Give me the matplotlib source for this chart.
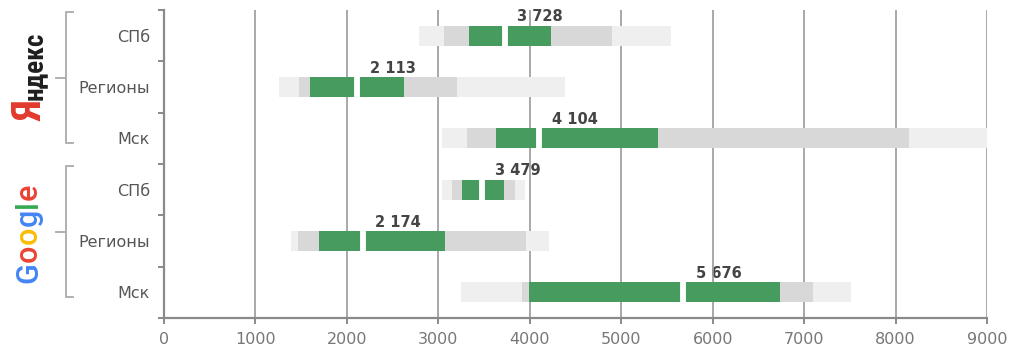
import matplotlib
matplotlib.use("Agg")
import matplotlib.pyplot as plt
import matplotlib.transforms as mtransforms
from matplotlib import font_manager
import numpy as np

# --- данные (оценка по картинке) ---
row_labels = ["СПб", "Регионы", "Мск", "СПб", "Регионы", "Мск"]
outer_lo = [2790, 1260, 3040, 3040, 1390, 3250]
mid_lo = [3060, 1480, 3310, 3150, 1460, 3920]
inner_lo = [3330, 1600, 3630, 3260, 1690, 3990]
median = [3728, 2113, 4104, 3479, 2174, 5676]
inner_hi = [4230, 2620, 5400, 3720, 3070, 6740]
mid_hi = [4900, 3200, 8150, 3840, 3960, 7100]
outer_hi = [5540, 4380, 9000, 3950, 4210, 7510]
x_ticks = list(range(0, 10000, 1000))

GREEN = "#489b5e"
LIGHT = "#efefef"
MID = "#d8d8d8"
AXIS = "#8a8a8a"

plt.rcParams["font.family"] = ["DejaVu Sans"]

# узкий шрифт для логотипа Яндекса, если есть
installed = {f.name for f in font_manager.fontManager.ttflist}
narrow = next((f for f in ["Liberation Sans Narrow", "Roboto Condensed",
                           "Open Sans Condensed", "Liberation Sans"] if f in installed),
              "DejaVu Sans")

W, H = 1024, 358
fig = plt.figure(figsize=(W / 100, H / 100), dpi=100)
ax = fig.add_axes([164 / W, 1 - 318 / H, (987 - 164) / W, 308 / H])

y = np.arange(len(row_labels))
h = 0.39

def span(lo, hi):
    return np.array(hi) - np.array(lo)

ax.barh(y, span(outer_lo, outer_hi), left=outer_lo, height=h, color=LIGHT, zorder=2)
ax.barh(y, span(mid_lo, mid_hi), left=mid_lo, height=h, color=MID, zorder=2.1)
ax.barh(y, span(inner_lo, inner_hi), left=inner_lo, height=h, color=GREEN, zorder=2.2)
ax.vlines(median, y - h / 2 - 0.02, y + h / 2 + 0.02, color="white", lw=4.2, zorder=2.3)

for yi, m in zip(y, median):
    ax.annotate(f"{m:,}".replace(",", " "), xy=(m, yi - h / 2), xytext=(9, 1),
                textcoords="offset points", ha="left", va="bottom",
                fontsize=10.5, fontweight="bold", color="#444444", zorder=0.4)

ax.set_xlim(0, 9000)
ax.set_ylim(len(row_labels) - 0.5, -0.5)
ax.set_xticks(x_ticks)
ax.set_yticks(y)
ax.set_yticklabels(row_labels)
ax.set_yticks(np.arange(-0.5, len(row_labels), 1.0), minor=True)

ax.set_axisbelow(True)
ax.grid(axis="x", color="#9a9a9a", lw=1.2)
for s in ["top", "right"]:
    ax.spines[s].set_visible(False)
for s in ["left", "bottom"]:
    ax.spines[s].set_color(AXIS)
    ax.spines[s].set_linewidth(1.6)

ax.tick_params(axis="x", length=4, width=1.4, color=AXIS, labelcolor="#777777",
               labelsize=11.5, pad=6)
ax.tick_params(axis="y", which="major", length=0, labelcolor="#555555",
               labelsize=11.5, pad=10)
ax.tick_params(axis="y", which="minor", length=4, width=1.4, color=AXIS)

# --- скобки групп ---
trans = mtransforms.blended_transform_factory(fig.transFigure, ax.transData)
bx, arm, mid_x = 66 / W, 73 / W, 56 / W
for off in (0, 3):
    top, bot, mid = off - 0.47, off + 2.1, off + 0.82
    ax.plot([arm, bx, bx, arm], [top, top, bot, bot], transform=trans,
            color="#b0b0b0", lw=1.4, clip_on=False)
    ax.plot([mid_x, bx], [mid, mid], transform=trans,
            color="#b0b0b0", lw=1.4, clip_on=False)

# --- логотипы (повернутый текст, буквы по очереди) ---
fig.canvas.draw()
renderer = fig.canvas.get_renderer()

def stack_letters(parts, x_px, y_px, family, weight):
    # parts: (текст, цвет, размер, нужная длина в пикселях или None)
    cur = y_px
    for s, col, size, target in parts:
        t = fig.text(x_px / W, 1 - cur / H, s, rotation=90, rotation_mode="anchor",
                     ha="left", va="baseline", color=col, fontsize=size,
                     family=family, fontweight=weight)
        bb = t.get_window_extent(renderer)
        if target:
            t.set_fontsize(size * target / bb.height)
            bb = t.get_window_extent(renderer)
        cur -= bb.height + 0.5

stack_letters([("Я", "#e23a2c", 29, None), ("ндекс", "#1e1e1e", 20, 68)], 42, 121,
              [narrow, "DejaVu Sans"], "bold")
stack_letters([("G", "#4285F4", 22, None), ("o", "#EA4335", 22, None),
               ("o", "#FBBC05", 22, None), ("g", "#4285F4", 22, None),
               ("l", "#34A853", 22, None), ("e", "#EA4335", 22, None)],
              37, 283, ["Roboto", "DejaVu Sans"], "medium")

fig.savefig("out.png", dpi=100)
